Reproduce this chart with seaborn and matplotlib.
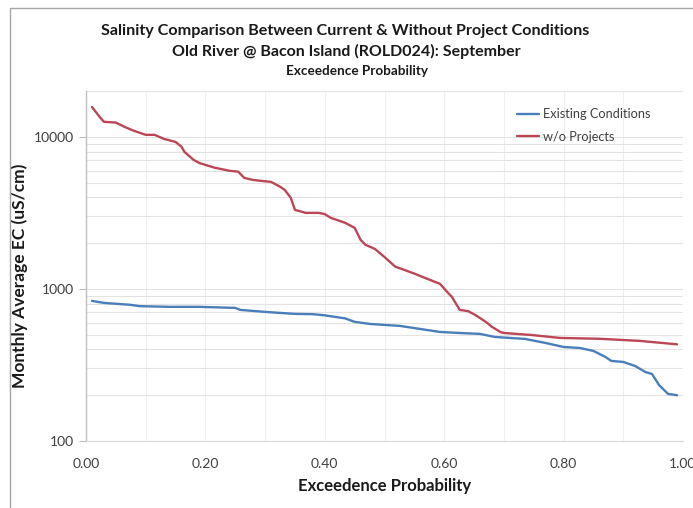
import numpy as np
import pandas as pd
import matplotlib
matplotlib.use("Agg")
import matplotlib.pyplot as plt
from matplotlib.ticker import FixedLocator, MultipleLocator, NullFormatter, FuncFormatter, LogLocator
from matplotlib.lines import Line2D
import seaborn as sns

# Exceedence probability curves, September monthly average EC (uS/cm)
p_existing = [0.01, 0.03, 0.074, 0.09, 0.14, 0.19, 0.25, 0.258, 0.30, 0.35, 0.38,
              0.40, 0.434, 0.45, 0.476, 0.526, 0.56, 0.593, 0.626, 0.66, 0.685,
              0.735, 0.77, 0.80, 0.827, 0.85, 0.87, 0.88, 0.90, 0.92, 0.937,
              0.948, 0.96, 0.975, 0.99]
ec_existing = [834, 809, 786, 770, 762, 762, 750, 728, 706, 685, 682,
               670, 640, 607, 588, 571, 545, 521, 513, 506, 483,
               469, 441, 415, 409, 391, 357, 336, 331, 311, 284,
               276, 233, 204, 200]

p_without = [0.01, 0.023, 0.03, 0.05, 0.065, 0.08, 0.10, 0.115, 0.13, 0.15, 0.16,
             0.165, 0.18, 0.19, 0.215, 0.24, 0.255, 0.265, 0.28, 0.31, 0.325,
             0.333, 0.343, 0.35, 0.368, 0.39, 0.40, 0.41, 0.434, 0.45, 0.46,
             0.468, 0.484, 0.50, 0.518, 0.534, 0.55, 0.568, 0.585, 0.593, 0.605,
             0.613, 0.626, 0.64, 0.652, 0.67, 0.68, 0.694, 0.70, 0.745, 0.794,
             0.86, 0.928, 0.99]
ec_without = [15700, 13500, 12550, 12400, 11600, 10960, 10300, 10300, 9700, 9250, 8600,
              7950, 7060, 6720, 6270, 5980, 5900, 5370, 5200, 5050, 4700,
              4470, 3970, 3310, 3160, 3160, 3100, 2930, 2720, 2520, 2100,
              1950, 1830, 1620, 1400, 1330, 1260, 1180, 1110, 1080, 955,
              885, 728, 714, 674, 606, 563, 521, 513, 498, 476,
              470, 455, 432]

series_names = ["Existing Conditions", "w/o Projects"]
series_colors = ["#4a7ebb", "#bc4656"]
x_ticks = [0.0, 0.2, 0.4, 0.6, 0.8, 1.0]
y_ticks = [100, 1000, 10000]

df = pd.concat([
    pd.DataFrame({"p": p_existing, "ec": ec_existing, "series": series_names[0]}),
    pd.DataFrame({"p": p_without, "ec": ec_without, "series": series_names[1]}),
], ignore_index=True)

sns.set_theme(style="white")
plt.rcParams["font.family"] = ["Lato", "DejaVu Sans"]

W, H = 693, 508
fig = plt.figure(figsize=(W / 100, H / 100), dpi=100)
fig.patch.set_facecolor("white")

x0, x1 = 86, 683
y_bot = 441
ax = fig.add_axes([x0 / W, 1 - y_bot / H, (x1 - x0) / W, (y_bot - 91) / H])

sns.lineplot(data=df, x="p", y="ec", hue="series", palette=series_colors,
             hue_order=series_names, estimator=None, sort=True, linewidth=1.7,
             ax=ax, legend=False)

ax.set_yscale("log")
ax.set_xlim(0, 1)
ax.set_ylim(100, 20000)

ax.xaxis.set_major_locator(FixedLocator(x_ticks))
ax.xaxis.set_major_formatter(FuncFormatter(lambda v, _: f"{v:.2f}"))
ax.xaxis.set_minor_locator(MultipleLocator(0.1))
ax.yaxis.set_major_locator(FixedLocator(y_ticks))
ax.yaxis.set_major_formatter(FuncFormatter(lambda v, _: f"{int(round(v))}"))
ax.yaxis.set_minor_locator(LogLocator(base=10, subs=np.arange(2, 10)))
ax.yaxis.set_minor_formatter(NullFormatter())

ax.grid(True, which="both", axis="y", color="#e3e3e3", linewidth=0.8)
ax.grid(True, which="both", axis="x", color="#efefef", linewidth=0.8)
ax.set_axisbelow(True)

for s in ["top", "right"]:
    ax.spines[s].set_visible(False)
ax.spines["left"].set_color("#bfbfbf")
ax.spines["left"].set_linewidth(1.0)
ax.spines["bottom"].set_color("#d9d9d9")
ax.spines["bottom"].set_linewidth(0.8)

ax.tick_params(axis="y", which="major", direction="out", length=5, width=0.8,
               color="#bfbfbf", left=True, labelsize=10, labelcolor="#404040", pad=4)
ax.tick_params(axis="y", which="minor", left=False)
ax.tick_params(axis="x", which="both", bottom=False, labelsize=10,
               labelcolor="#404040", pad=6)

ax.set_xlabel("Exceedence Probability", fontsize=12, fontweight="bold",
              color="#1a1a1a", labelpad=6)
ax.set_ylabel("Monthly Average EC (uS/cm)", fontsize=12.5, fontweight="bold",
              color="#1a1a1a")
ax.yaxis.set_label_coords((28 - x0) / (x1 - x0), (y_bot - 276) / (y_bot - 91))

handles = [Line2D([], [], color=c, linewidth=1.7) for c in series_colors]
fig.legend(handles, series_names, loc="upper left",
           bbox_to_anchor=(517 / W, 1 - 108 / H), bbox_transform=fig.transFigure,
           frameon=False, fontsize=9.2, handlelength=1.7, handletextpad=0.3,
           labelspacing=0.85, labelcolor="#404040", borderpad=0, borderaxespad=0)

fig.text(0.5 * (100 + 590) / W, 1 - 31 / H,
         "Salinity Comparison Between Current & Without Project Conditions",
         ha="center", va="center", fontsize=11.65, fontweight="bold", color="#1a1a1a")
fig.text(0.5 * (172 + 520) / W, 1 - 51 / H,
         "Old River @ Bacon Island (ROLD024): September",
         ha="center", va="center", fontsize=11.5, fontweight="bold", color="#1a1a1a")
fig.text(0.5 * (287 + 427) / W, 1 - 71 / H, "Exceedence Probability",
         ha="center", va="center", fontsize=9.7, fontweight="bold", color="#1a1a1a")

# Chart frame
fig.add_artist(Line2D([10 / W, 1], [1 - 8 / H, 1 - 8 / H], color="#a6a6a6",
                      linewidth=1.0, transform=fig.transFigure))
fig.add_artist(Line2D([10 / W, 10 / W], [1 - 8 / H, 0], color="#a6a6a6",
                      linewidth=1.0, transform=fig.transFigure))

fig.savefig("out.png", dpi=100)
